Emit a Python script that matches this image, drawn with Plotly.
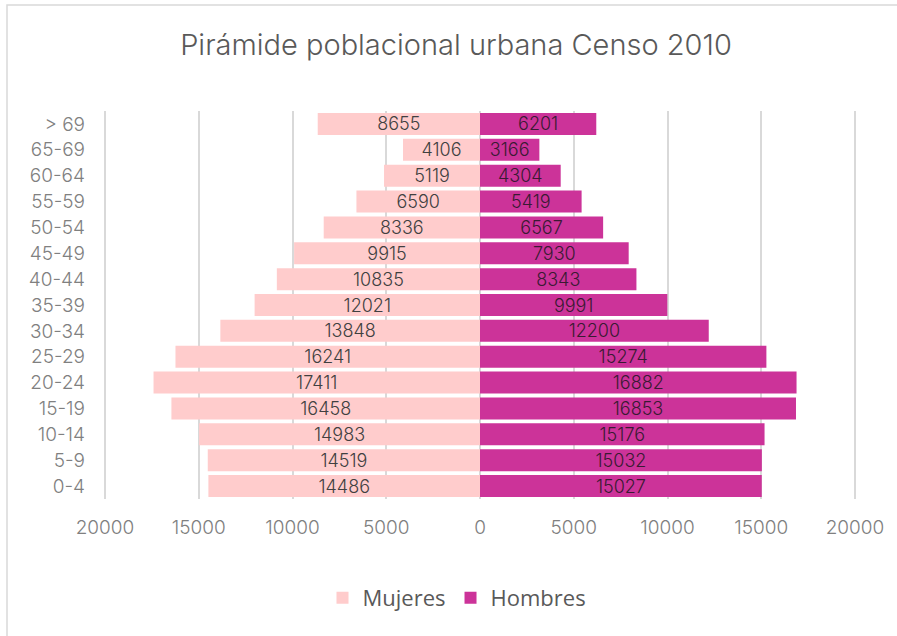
import plotly.graph_objects as go

categories = ["0-4", "5-9", "10-14", "15-19", "20-24", "25-29", "30-34", "35-39",
              "40-44", "45-49", "50-54", "55-59", "60-64", "65-69", "> 69"]
mujeres = [14486, 14519, 14983, 16458, 17411, 16241, 13848, 12021,
           10835, 9915, 8336, 6590, 5119, 4106, 8655]
hombres = [15027, 15032, 15176, 16853, 16882, 15274, 12200, 9991,
           8343, 7930, 6567, 5419, 4304, 3166, 6201]
tick_vals = [-20000, -15000, -10000, -5000, 0, 5000, 10000, 15000, 20000]
tick_text = ["20000", "15000", "10000", "5000", "0", "5000", "10000", "15000", "20000"]

FONT = "Inter, Roboto, 'Liberation Sans', Arial, sans-serif"
W, H = 897, 636
# plot area spans x 101..859 (±20000 at 105/855), y 111..499
L, R, T, B = 101, W - 859, 111, H - 499
pw, ph = W - L - R, H - T - B
XR = 20000 * 758 / 750

fig = go.Figure()
fig.add_trace(go.Bar(
    y=categories, x=[-v for v in mujeres], orientation="h", name="Mujeres",
    marker=dict(color="#FFCCCC", line=dict(width=0)),
    text=[str(v) for v in mujeres], textposition="inside", insidetextanchor="middle",
    constraintext="none",
    textfont=dict(family=FONT, size=18, color="#404040", weight=300),
    hoverinfo="skip",
))
fig.add_trace(go.Bar(
    y=categories, x=hombres, orientation="h", name="Hombres",
    marker=dict(color="#CC3399", line=dict(width=0)),
    text=[str(v) for v in hombres], textposition="inside", insidetextanchor="middle",
    constraintext="none",
    textfont=dict(family=FONT, size=18, color="#3a1a33", weight=300),
    hoverinfo="skip",
))

fig.update_layout(
    width=W, height=H,
    margin=dict(l=L, r=R, t=T, b=B),
    paper_bgcolor="white", plot_bgcolor="white",
    barmode="relative", bargap=0.15,
    title=dict(text="Pirámide poblacional urbana Censo 2010", x=456 / W, xref="container",
               xanchor="center", y=1 - 45 / H, yanchor="middle", yref="container",
               font=dict(family=FONT, size=29, color="#595959", weight=300)),
    legend=dict(orientation="h", x=457 / W, xref="container", xanchor="center",
                y=1 - 598 / H, yref="container", yanchor="middle",
                font=dict(family="'Open Sans', Lato, sans-serif", size=22, color="#595959"),
                itemwidth=30, traceorder="normal"),
    xaxis=dict(range=[-XR, XR], tickvals=tick_vals, ticktext=tick_text,
               showgrid=True, gridcolor="#d9d9d9", gridwidth=1.5,
               zeroline=True, zerolinecolor="#d9d9d9", zerolinewidth=1.5,
               showline=False, ticks="", ticklabelstandoff=15,
               tickfont=dict(family=FONT, size=19, color="#808080", weight=300),
               fixedrange=True),
    yaxis=dict(type="category", showgrid=False, zeroline=False, showline=False,
               ticks="", ticklabelstandoff=15,
               tickfont=dict(family=FONT, size=19, color="#808080", weight=300),
               fixedrange=True),
    shapes=[dict(type="rect", xref="paper", yref="paper",
                 x0=(7 - L) / pw, x1=(W + 5 - L) / pw,
                 y0=-(H + 5 - (H - B)) / ph, y1=1 + (T - 5) / ph,
                 line=dict(color="#d9d9d9", width=1.5), fillcolor="rgba(0,0,0,0)",
                 layer="below")],
)

fig.write_html("out.html", config={"displayModeBar": False},
               post_script="document.body.style.margin='0';")
